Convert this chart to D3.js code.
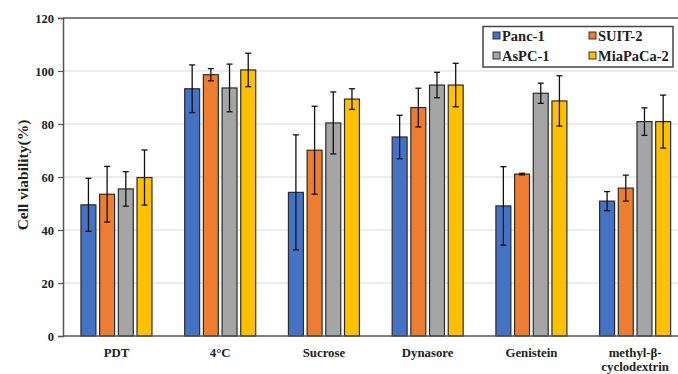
<!DOCTYPE html>
<html>
<head>
<meta charset="utf-8">
<script src="https://cdn.jsdelivr.net/npm/d3@7"></script>
<style>
  html, body { margin: 0; padding: 0; background: #fff; }
  svg { display: block; }
  text { font-family: "Liberation Serif", "Times New Roman", serif; font-weight: bold; fill: #222; }
</style>
</head>
<body>
<svg id="chart" width="678" height="374"></svg>
<script>
const categories = ["PDT", "4°C", "Sucrose", "Dynasore", "Genistein", "methyl-β-\ncyclodextrin"];
const series = ["Panc-1", "SUIT-2", "AsPC-1", "MiaPaCa-2"];
const colors = ["#4472C4", "#ED7D31", "#A5A5A5", "#FFC000"];
const panc1 = [49.5, 93.3, 54.2, 75.1, 49.1, 50.9];
const suit2 = [53.5, 98.6, 70.1, 86.2, 61.1, 55.8];
const aspc1 = [55.5, 93.6, 80.4, 94.7, 91.6, 80.9];
const miapaca2 = [59.8, 100.4, 89.4, 94.7, 88.7, 80.9];
const panc1Err = [10, 9, 21.7, 8.2, 14.8, 3.6];
const suit2Err = [10.5, 2.3, 16.6, 7.3, 0.3, 4.9];
const aspc1Err = [6.5, 9, 11.7, 4.8, 3.8, 5.2];
const miapaca2Err = [10.4, 6.3, 3.9, 8.2, 9.5, 10];
const yTicks = [0, 20, 40, 60, 80, 100, 120];

const values = [panc1, suit2, aspc1, miapaca2];
const errors = [panc1Err, suit2Err, aspc1Err, miapaca2Err];

const svg = d3.select("#chart");
const mLeft = 63, mTop = 18, mBottom = 336, rightEdge = 678;

const y = d3.scaleLinear().domain([0, 120]).range([mBottom, mTop]);
const x0 = d3.scaleBand().domain(categories).range([64.6, 687]).padding(0);
const x1 = d3.scaleBand().domain(series).range([-35.5, 35.5]).paddingInner(0.2).paddingOuter(0);

// gridlines
svg.append("g").selectAll("line").data(yTicks.filter(t => t > 0 && t < 120)).join("line")
  .attr("x1", mLeft).attr("x2", rightEdge)
  .attr("y1", d => y(d)).attr("y2", d => y(d))
  .attr("stroke", "#d9d9d9").attr("stroke-width", 1);

// top border
svg.append("line").attr("x1", mLeft).attr("x2", rightEdge).attr("y1", y(120)).attr("y2", y(120))
  .attr("stroke", "#555").attr("stroke-width", 1.5);

// y axis
const yAxis = svg.append("g").attr("transform", `translate(${mLeft},0)`)
  .call(d3.axisLeft(y).tickValues(yTicks).tickSize(5).tickPadding(4));
yAxis.select(".domain").attr("stroke", "#555").attr("stroke-width", 1.5);
yAxis.selectAll(".tick line").attr("stroke", "#555").attr("stroke-width", 1.2);
yAxis.selectAll(".tick text").attr("font-size", 12.5).attr("fill", "#222")
  .attr("font-family", "Liberation Serif").attr("font-weight", "bold");

// bars
const groups = svg.append("g").selectAll("g").data(categories).join("g")
  .attr("transform", d => `translate(${x0(d) + x0.bandwidth() / 2},0)`);

groups.each(function(cat, ci) {
  const g = d3.select(this);
  series.forEach((s, si) => {
    const v = values[si][ci];
    const e = errors[si][ci];
    const bx = x1(s);
    const cx = bx + x1.bandwidth() / 2;
    g.append("rect")
      .attr("x", bx).attr("y", y(v))
      .attr("width", x1.bandwidth()).attr("height", y(0) - y(v))
      .attr("fill", colors[si]).attr("stroke", "#2b2b2b").attr("stroke-width", 1.2);
    const eg = g.append("g").attr("stroke", "#111").attr("stroke-width", 1.3);
    eg.append("line").attr("x1", cx).attr("x2", cx).attr("y1", y(v + e)).attr("y2", y(v - e));
    eg.append("line").attr("x1", cx - 3).attr("x2", cx + 3).attr("y1", y(v + e)).attr("y2", y(v + e));
    eg.append("line").attr("x1", cx - 3).attr("x2", cx + 3).attr("y1", y(v - e)).attr("y2", y(v - e));
  });
});

// x axis
const xAxis = svg.append("g").attr("transform", `translate(0,${mBottom})`)
  .call(d3.axisBottom(x0).tickSize(0).tickFormat(""));
xAxis.select(".domain").remove();
svg.append("line").attr("x1", mLeft).attr("x2", rightEdge).attr("y1", mBottom).attr("y2", mBottom)
  .attr("stroke", "#555").attr("stroke-width", 1.5);

svg.append("g").selectAll("text").data(categories).join("text")
  .attr("text-anchor", "middle").attr("font-size", 12.8)
  .attr("transform", d => `translate(${x0(d) + x0.bandwidth() / 2},${357})`)
  .each(function(d) {
    const lines = d.split("\n");
    d3.select(this).selectAll("tspan").data(lines).join("tspan")
      .attr("x", 0).attr("dy", (l, i) => i === 0 ? 0 : 14).text(l => l);
  });

// y title
svg.append("text").attr("text-anchor", "middle").attr("font-size", 15.5)
  .attr("transform", `translate(28,${175}) rotate(-90)`)
  .text("Cell viability(%)");

// legend
const lg = svg.append("g");
lg.append("rect").attr("x", 483).attr("y", 26.5).attr("width", 190).attr("height", 40.5)
  .attr("fill", "#fff").attr("stroke", "#444").attr("stroke-width", 1.5);
const legPos = [[493, 35.5], [589, 35.5], [493, 55.5], [589, 55.5]];
series.forEach((s, i) => {
  const [lx, ly] = legPos[i];
  lg.append("rect").attr("x", lx).attr("y", ly - 3.5).attr("width", 7).attr("height", 7)
    .attr("fill", colors[i]).attr("stroke", "#333").attr("stroke-width", 1);
  lg.append("text").attr("x", lx + 9).attr("y", ly + 5).attr("font-size", 14.5).text(s);
});
</script>
</body>
</html>
